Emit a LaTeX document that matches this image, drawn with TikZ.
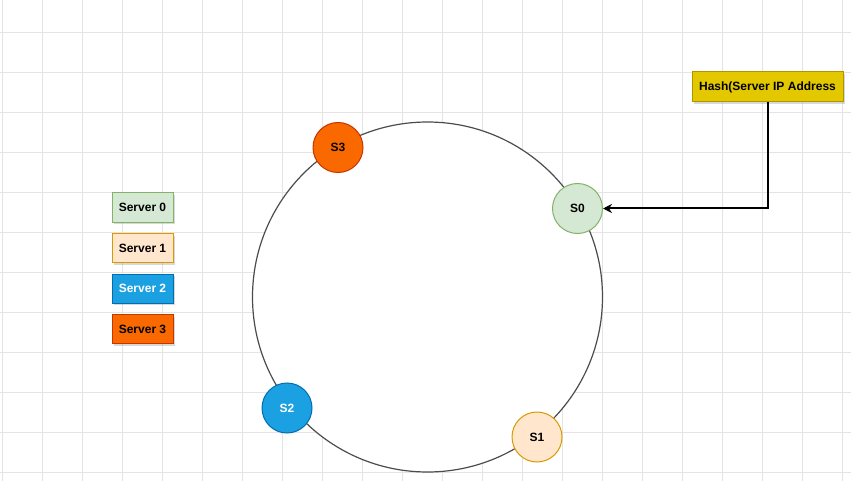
\documentclass[tikz,border=0pt]{standalone}
\usepackage{fontspec}
\setmainfont{Liberation Sans}
\usepackage{tikz}
\usetikzlibrary{arrows.meta,positioning,shadows}

\definecolor{gridgray}{HTML}{E4E4E4}
\definecolor{greenfill}{HTML}{D5E8D4}
\definecolor{greenline}{HTML}{82B366}
\definecolor{peachfill}{HTML}{FFE6CC}
\definecolor{peachline}{HTML}{D79B00}
\definecolor{bluefill}{HTML}{1BA1E2}
\definecolor{blueline}{HTML}{006EAF}
\definecolor{orangefill}{HTML}{FA6800}
\definecolor{orangeline}{HTML}{C73500}
\definecolor{yellowfill}{HTML}{E3C800}
\definecolor{yellowline}{HTML}{B09500}

\begin{document}
\begin{tikzpicture}[x=1pt, y=-1pt,
    font=\fontsize{12}{14}\selectfont\bfseries,
    server/.style={circle, draw, line width=1pt, minimum size=50pt, inner sep=0pt},
    legend/.style={rectangle, draw, line width=1pt, minimum width=61pt, minimum height=29pt,
        inner sep=0pt, drop shadow={shadow xshift=2pt, shadow yshift=-2pt, opacity=0.3}}]
        \useasboundingbox (0,0) rectangle (851,481);
        \fill[white] (0,0) rectangle (851,481);

        % grid
        \foreach \gx in {2,42,...,842}
            \draw[gridgray, line width=0.7pt] (\gx,0) -- (\gx,481);
        \foreach \gy in {32,72,...,472}
            \draw[gridgray, line width=0.7pt] (0,\gy) -- (851,\gy);

        % ring
        \draw[fill=white, draw=black!70, line width=1.2pt] (427.5,297) circle (175pt);

        % servers on the ring
        \node[server, fill=greenfill, draw=greenline] (s0) at (577.5,208.5) {S0};
        \node[server, fill=peachfill, draw=peachline] (s1) at (537,437) {S1};
        \node[server, fill=bluefill, draw=blueline, text=white] (s2) at (287,408) {S2};
        \node[server, fill=orangefill, draw=orangeline] (s3) at (338,147.5) {S3};

        % legend
        \node[legend, fill=greenfill, draw=greenline] (l0) at (142.5,207.5) {Server 0};
        \node[legend, fill=peachfill, draw=peachline, below=10.5pt of l0] (l1) {Server 1};
        \node[legend, fill=bluefill, draw=blueline, text=white, below=10.5pt of l1] (l2) {Server 2};
        \node[legend, fill=orangefill, draw=orangeline, below=10.5pt of l2] (l3) {Server 3};

        % hash box
        \node[rectangle, draw=yellowline, fill=yellowfill, line width=1pt, minimum width=151pt,
            minimum height=30pt, inner sep=0pt,
            drop shadow={shadow xshift=2pt, shadow yshift=-2pt, opacity=0.3}] (hash) at (767.5,87) {Hash(Server IP Address};

        \draw[-{Stealth[length=9pt,width=9pt]}, line width=2pt] (hash.south) |- (s0.east);
    \end{tikzpicture}
\end{document}
